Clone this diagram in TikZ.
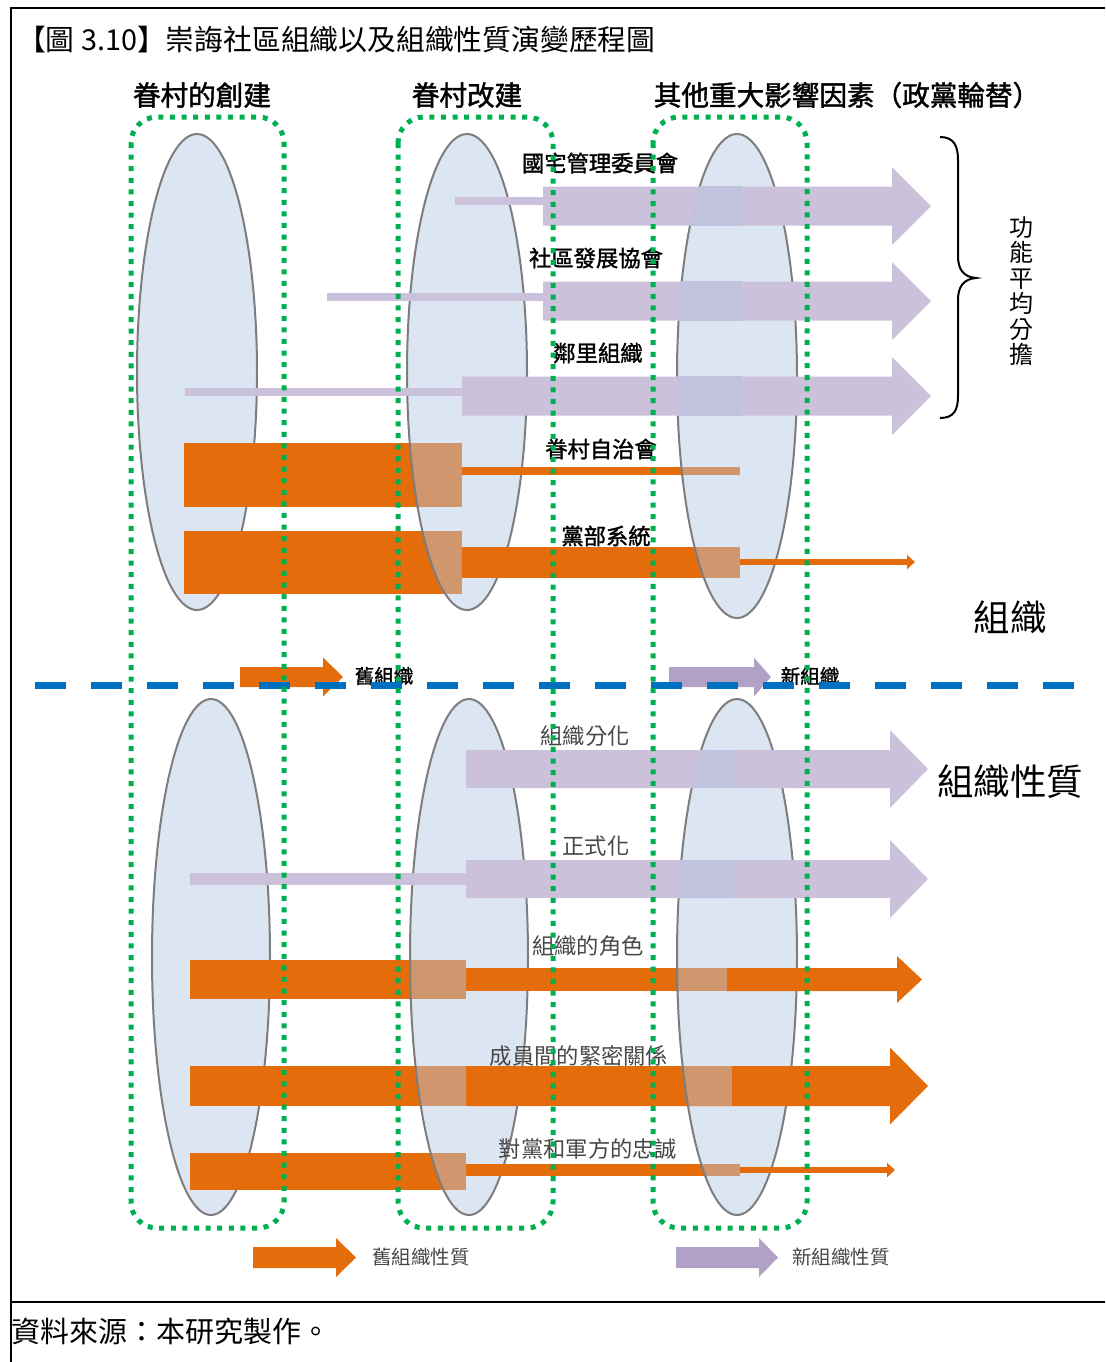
\documentclass[tikz,border=0pt]{standalone}
\usepackage{fontspec}
\newfontfamily\cjk{Noto Sans CJK TC}
\newfontfamily\cjkb[FakeBold=1.5]{Noto Sans CJK TC}
\usepackage{tikz}
\usetikzlibrary{arrows.meta}

\definecolor{ovalblue}{RGB}{220,230,242}
\definecolor{ovalgray}{RGB}{125,125,125}
\definecolor{lav}{RGB}{204,193,218}
\definecolor{lavdark}{RGB}{178,161,199}
\definecolor{lavblue}{RGB}{192,194,222}
\definecolor{orng}{RGB}{228,108,10}
\definecolor{orngpale}{RGB}{208,150,110}
\definecolor{dotgreen}{RGB}{0,176,80}
\definecolor{dashblue}{RGB}{0,112,192}

\newcommand{\fatarrow}[7]{\fill[#7] (#1,#4-#5) -- (#2,#4-#5) -- (#2,#4-#6) -- (#3,#4) -- (#2,#4+#6) -- (#2,#4+#5) -- (#1,#4+#5) -- cycle;}
\newcommand{\blend}[4]{%
  \begin{scope}\clip #1;\fill[#3] #2;\end{scope}%
  \begin{scope}\clip #2;\draw[#4] #1;\end{scope}}
\newcommand{\ovalTB}{(467,372) ellipse [x radius=60,y radius=238]}
\newcommand{\ovalTC}{(737,376) ellipse [x radius=60,y radius=242]}
\newcommand{\ovalBB}{(469,957) ellipse [x radius=59,y radius=258]}
\newcommand{\ovalBC}{(737,957) ellipse [x radius=60,y radius=258]}

\begin{document}
\begin{tikzpicture}[x=0.5pt,y=-0.5pt,
  oval/.style={fill=ovalblue,draw=ovalgray,line width=1pt},
  ovalline/.style={draw=ovalgray,line width=1pt},
  zone/.style={draw=dotgreen,line width=2.5pt,dash pattern=on 2.5pt off 3.3pt,rounded corners=13pt},
  head/.style={font=\cjkb\fontsize{13.8pt}{15pt}\selectfont,inner sep=0pt},
  toplbl/.style={font=\cjkb\fontsize{11.15pt}{13pt}\selectfont,inner sep=0pt},
  lowlbl/.style={font=\cjk\fontsize{11.15pt}{13pt}\selectfont,text=black!72,inner sep=0pt},
  keylbl/.style={font=\cjkb\fontsize{9.75pt}{11pt}\selectfont,inner sep=0pt},
  keylbl2/.style={font=\cjk\fontsize{9.75pt}{11pt}\selectfont,text=black!72,inner sep=0pt},
  biglbl/.style={font=\cjk\fontsize{18.25pt}{20pt}\selectfont,inner sep=0pt},
  thin/.style={orng,line width=3pt,-{Triangle[length=4pt,width=7pt]}}]
\useasboundingbox (0,0) rectangle (1105,1362);

% frame
\draw[line width=1pt] (11,1362) -- (11,8) -- (1105,8);
\draw[line width=1pt] (11,1302) -- (1105,1302);
\node[font=\cjk\fontsize{14.4pt}{16pt}\selectfont,anchor=east,inner sep=0pt] (ttl) at (656,40) {【圖 3.10】崇誨社區組織以及組織性質演變歷程圖};
\node[font=\cjk\fontsize{14.5pt}{16pt}\selectfont,anchor=west,inner sep=0pt] (src) at (11,1331) {資料來源：本研究製作。};

\node[head] (h1) at (202,95) {眷村的創建};
\node[head] (h2) at (467,95) {眷村改建};
\node[head] (h3) at (847,95) {其他重大影響因素（政黨輪替）};

% ovals
\draw[oval] (197,372) ellipse [x radius=60,y radius=238];
\draw[oval] \ovalTB;
\draw[oval] \ovalTC;
\draw[oval] (211,957) ellipse [x radius=59,y radius=258];
\draw[oval] \ovalBB;
\draw[oval] \ovalBC;

% organisations
\fill[lav] (455,197) rectangle (543,205);
\fill[lav] (327,293) rectangle (543,301);
\fill[lav] (185,388) rectangle (462,396);
\fatarrow{543}{892}{931}{206}{19.5}{39}{lav}
\fatarrow{543}{892}{931}{301}{19.5}{39}{lav}
\fatarrow{462}{892}{931}{396}{19.5}{39}{lav}
\blend{\ovalTC}{(660,186) rectangle (742,226)}{lavblue}{draw=none}
\blend{\ovalTC}{(660,281) rectangle (742,321)}{lavblue}{draw=none}
\blend{\ovalTC}{(660,376) rectangle (742,416)}{lavblue}{draw=none}

\fill[orng] (184,443) rectangle (462,507);
\fill[orng] (462,467) rectangle (740,475);
\fill[orng] (184,531) rectangle (462,594);
\fill[orng] (462,547) rectangle (740,578);
\draw[thin] (740,562) -- (915,562);
\blend{\ovalTB}{(400,443) rectangle (462,507)}{orngpale}{ovalline}
\blend{\ovalTB}{(400,531) rectangle (462,594)}{orngpale}{ovalline}
\blend{\ovalTC}{(660,467) rectangle (740,475)}{orngpale}{ovalline}
\blend{\ovalTC}{(660,547) rectangle (740,578)}{orngpale}{ovalline}

% properties
\fatarrow{466}{890}{928}{769}{19}{39}{lav}
\fill[lav] (190,873) rectangle (466,885);
\fatarrow{466}{890}{928}{879}{19}{39}{lav}
\blend{\ovalBC}{(660,750) rectangle (735,788)}{lavblue}{draw=none}
\blend{\ovalBC}{(660,860) rectangle (735,898)}{lavblue}{draw=none}

\fill[orng] (190,960) rectangle (466,999);
\fill[orng] (466,968) rectangle (727,991);
\fatarrow{727}{897}{922}{979.5}{11.5}{23.5}{orng}
\fill[orng] (190,1066) rectangle (466,1106);
\fatarrow{466}{890}{928}{1086}{20}{38.5}{orng}
\fill[orng] (190,1153) rectangle (466,1190);
\fill[orng] (466,1164) rectangle (740,1176);
\draw[thin] (740,1170) -- (895,1170);
\blend{\ovalBB}{(400,960) rectangle (466,999)}{orngpale}{ovalline}
\blend{\ovalBB}{(400,1066) rectangle (466,1106)}{orngpale}{ovalline}
\blend{\ovalBB}{(400,1153) rectangle (466,1190)}{orngpale}{ovalline}
\blend{\ovalBC}{(660,968) rectangle (727,991)}{orngpale}{ovalline}
\blend{\ovalBC}{(660,1066) rectangle (732,1106)}{orngpale}{ovalline}
\blend{\ovalBC}{(660,1164) rectangle (740,1176)}{orngpale}{ovalline}

% keys
\fatarrow{240}{323}{343}{677}{10}{19.5}{orng}
\fatarrow{669}{754}{771}{677}{10}{19.5}{lavdark}
\fatarrow{253}{336}{356}{1257.5}{10.5}{19.5}{orng}
\fatarrow{676}{759}{778}{1257.5}{10.5}{19.5}{lavdark}
\node[keylbl] (oldorg) at (384,676) {舊組織};
\node[keylbl] (neworg) at (810,676) {新組織};
\node[keylbl2] (oldprop) at (421,1257) {舊組織性質};
\node[keylbl2] (newprop) at (841,1257) {新組織性質};

% labels
\node[toplbl] (guozhai) at (600,163) {國宅管理委員會};
\node[toplbl] (shequ) at (596,258) {社區發展協會};
\node[toplbl] (linli) at (598,353) {鄰里組織};
\node[toplbl] (zizhi) at (601,449) {眷村自治會};
\node[toplbl] (dangbu) at (606,536) {黨部系統};
\node[lowlbl] (fenhua) at (585,736) {組織分化};
\node[lowlbl] (zhengshi) at (596,846) {正式化};
\node[lowlbl] (jiaose) at (588,946) {組織的角色};
\node[lowlbl] (guanxi) at (579,1056) {成員間的緊密關係};
\node[lowlbl] (zhongcheng) at (588,1149) {對黨和軍方的忠誠};

\node[biglbl] (org) at (1010,617) {組織};
\node[biglbl] (prop) at (1010,782) {組織性質};

\draw[line width=1pt] (940,137) .. controls (954,137) and (958,146) .. (958,160) -- (958,256)
  .. controls (958,270) and (964,277) .. (976,278) .. controls (964,279) and (958,286) .. (958,300)
  -- (958,396) .. controls (958,410) and (954,418) .. (940,418);
\node[font=\cjk\fontsize{12pt}{12.75pt}\selectfont,align=center,inner sep=0pt] (share) at (1021,291) {功\\能\\平\\均\\分\\擔};

% divider and zones
\draw[dashblue,line width=3.5pt,dash pattern=on 15.5pt off 12.5pt] (35,685.5) -- (1080,685.5);
\draw[zone] (131,117) rectangle (284,1228);
\draw[zone] (398,117) rectangle (553,1228);
\draw[zone] (653,117) rectangle (807,1228);
\end{tikzpicture}
\end{document}
